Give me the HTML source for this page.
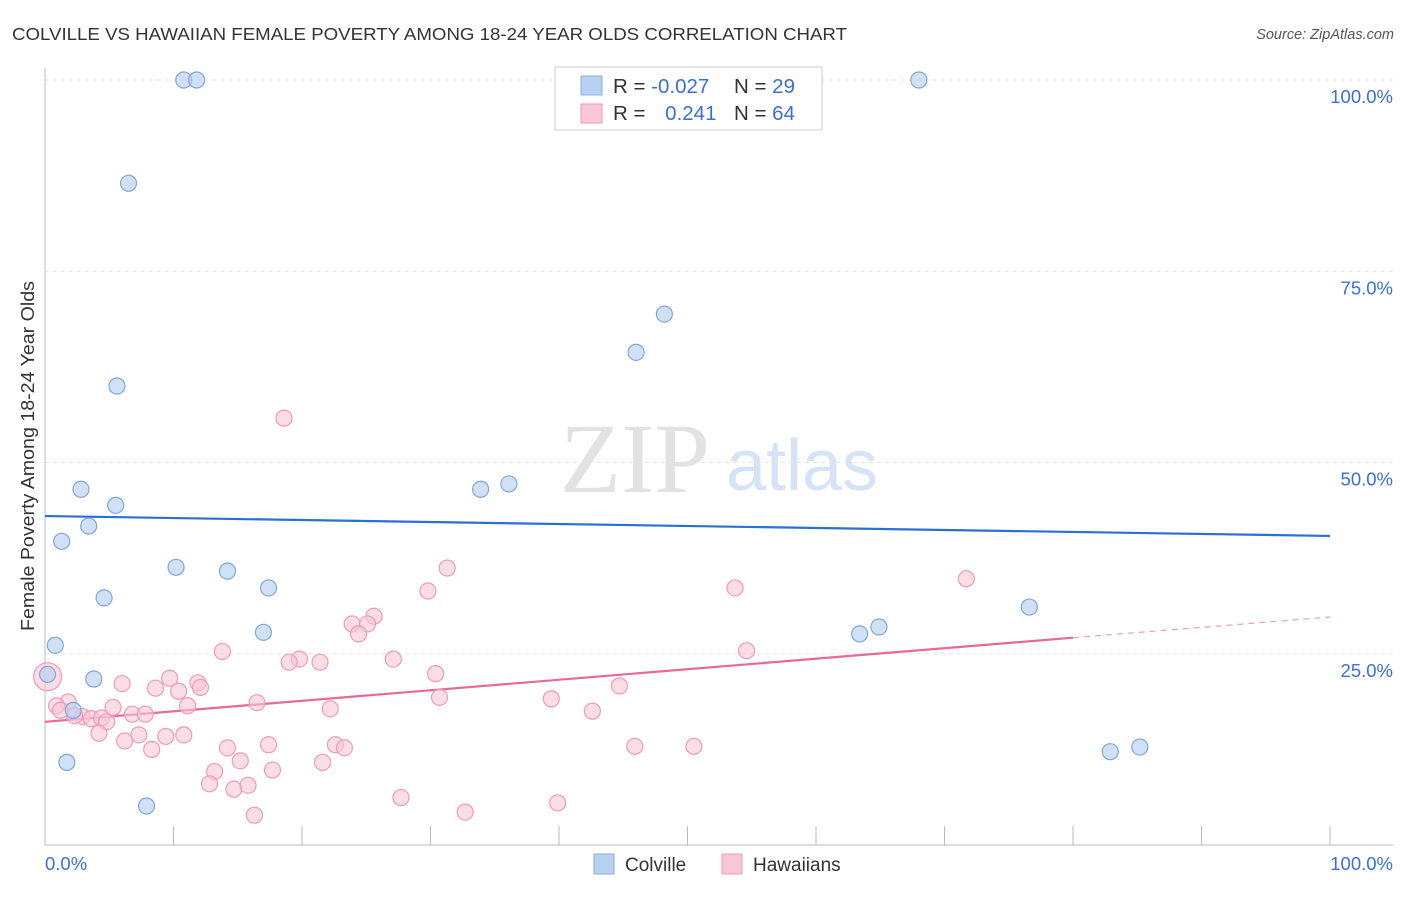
<!DOCTYPE html>
<html><head><meta charset="utf-8"><style>
body{margin:0;background:#fff;font-family:"Liberation Sans",sans-serif;}
</style></head><body>
<svg id="chart" width="1406" height="892" font-family="Liberation Sans, sans-serif">
<text x="12" y="40" font-size="17.5" fill="#333" textLength="835" lengthAdjust="spacingAndGlyphs">COLVILLE VS HAWAIIAN FEMALE POVERTY AMONG 18-24 YEAR OLDS CORRELATION CHART</text>
<text x="1394" y="39" font-size="14.5" fill="#555" text-anchor="end" font-style="italic">Source: ZipAtlas.com</text>
<text x="34" y="456" font-size="18" fill="#333" text-anchor="middle" textLength="350" lengthAdjust="spacingAndGlyphs" transform="rotate(-90 34 456)">Female Poverty Among 18-24 Year Olds</text>
<g><text x="635" y="492" font-size="100" fill="#e2e2e2" style="font-family:'Liberation Serif',serif" text-anchor="middle">ZIP</text><text x="802" y="490" font-size="72" fill="#d6e3f4" text-anchor="middle">atlas</text></g>
<g id="grid"></g><g id="axes"></g><g id="lines"></g><g id="pts"></g>
<g>
<rect x="555" y="67" width="267" height="63" fill="#fff" stroke="#ccc"/>
<rect x="581" y="76" width="21" height="19" fill="#b8d1f0" stroke="#8ab0e0"/>
<rect x="581" y="104" width="21" height="19" fill="#f8c6d5" stroke="#f09ab5"/>
<text x="613" y="93" font-size="20.5" fill="#333">R = <tspan fill="#3b6fd4">-0.027</tspan></text>
<text x="734" y="93" font-size="20.5" fill="#333">N = <tspan fill="#3b6fd4">29</tspan></text>
<text x="613" y="120" font-size="20.5" fill="#333">R = <tspan fill="#3b6fd4" dx="14">0.241</tspan></text>
<text x="734" y="120" font-size="20.5" fill="#333">N = <tspan fill="#3b6fd4">64</tspan></text>
</g>
<g><rect x="594" y="854" width="20" height="20" fill="#b8d1f0" stroke="#8ab0e0"/><text x="625" y="871" font-size="19" fill="#333">Colville</text></g>
<g><rect x="722" y="854" width="20" height="20" fill="#f8c6d5" stroke="#f09ab5"/><text x="753" y="871" font-size="19" fill="#333">Hawaiians</text></g>
<text x="45" y="870" font-size="18.5" fill="#3b6fd4">0.0%</text>
<text x="1393" y="870" font-size="18.5" fill="#3b6fd4" text-anchor="end">100.0%</text>
</svg>
<script>
const yTicks=[25,50,75,100];
const yTickLabels=["25.0%","50.0%","75.0%","100.0%"];
const colvilleX=[10.8,11.8,68.0,6.5,48.2,46.0,5.6,2.8,5.5,33.9,36.1,3.4,1.3,10.2,14.2,17.4,4.6,76.6,17.0,64.9,63.4,0.8,0.2,3.8,2.2,1.7,7.9,82.9,85.2];
const colvilleY=[100,100,100,86.5,69.4,64.4,60.0,46.5,44.4,46.5,47.2,41.7,39.7,36.3,35.8,33.6,32.3,31.1,27.8,28.5,27.6,26.1,22.3,21.7,17.6,10.8,5.1,12.2,12.8];
const hawX=[18.6,31.3,29.8,25.6,23.9,25.1,24.4,71.7,53.7,13.8,54.6,19.8,19.0,21.4,27.1,30.4,9.7,11.9,6.0,8.6,10.4,12.1,44.7,30.7,39.4,16.5,11.1,5.3,22.2,1.8,0.9,0.2,42.6,2.9,3.6,4.4,6.8,7.8,4.8,4.2,7.3,9.4,10.8,6.2,8.3,14.2,17.4,22.6,23.3,45.9,50.5,15.2,13.2,17.7,21.6,12.8,14.7,15.8,27.7,39.9,32.7,16.3,2.3,1.2];
const hawY=[55.8,36.2,33.2,29.9,28.9,28.9,27.6,34.8,33.6,25.3,25.4,24.3,23.9,23.9,24.3,22.4,21.8,21.2,21.1,20.5,20.1,20.6,20.8,19.3,19.1,18.6,18.2,18.0,17.8,18.7,18.2,22.0,17.5,16.8,16.5,16.6,17.1,17.1,16.1,14.6,14.4,14.2,14.4,13.6,12.5,12.7,13.1,13.1,12.7,12.9,12.9,11.0,9.6,9.8,10.8,8.0,7.3,7.8,6.2,5.5,4.3,3.9,16.9,17.6];
const blueTrend=[43.0,40.4];
const pinkTrend=[16.1,27.1,29.8];
const NS="http://www.w3.org/2000/svg";
const X=v=>45+v*12.85, Y=v=>845-v*7.65;
function mk(t,a,p){const e=document.createElementNS(NS,t);for(const k in a)e.setAttribute(k,a[k]);p.appendChild(e);return e;}
const grid=document.getElementById('grid');
yTicks.forEach((t,i)=>{
 const l=mk('line',{x1:45,x2:1393,y1:Y(t),y2:Y(t),stroke:'#e4e4e4','stroke-dasharray':'4,4'},grid);
 
 
 const tx=mk('text',{x:1393,y:Y(t)+23,'font-size':18.5,fill:'#3b6fd4','text-anchor':'end'},grid);
 tx.textContent=yTickLabels[i];
 
 
});
const axes=document.getElementById('axes');
mk('line',{x1:45,x2:1393,y1:845,y2:845,stroke:'#bbb'},axes);
mk('line',{x1:45,x2:45,y1:68,y2:845,stroke:'#bbb'},axes);
for(let i=0;i<=10;i++){mk('line',{x1:X(i*10),x2:X(i*10),y1:826,y2:845,stroke:'#bbb'},axes);}
const lines=document.getElementById('lines');
const bl=mk('line',{x1:X(0),y1:Y(blueTrend[0]),x2:X(100),y2:Y(blueTrend[1]),stroke:'#2a6fd4','stroke-width':2.2},lines);


const pl=mk('line',{x1:X(0),y1:Y(pinkTrend[0]),x2:X(80),y2:Y(pinkTrend[1]),stroke:'#e8689a','stroke-width':2.2},lines);


const pd=mk('line',{x1:X(80),y1:Y(pinkTrend[1]),x2:X(100),y2:Y(pinkTrend[2]),stroke:'#e8a0bb','stroke-width':1.2,'stroke-dasharray':'6,5'},lines);


const pts=document.getElementById('pts');
hawX.forEach((x,i)=>{
 const c=mk('circle',{cx:X(x),cy:Y(hawY[i]),r:(i==31?14:8),fill:'#f8c6d5','fill-opacity':0.6,stroke:'#f09ab5','stroke-width':1.2},pts);
 
 
});
colvilleX.forEach((x,i)=>{
 const c=mk('circle',{cx:X(x),cy:Y(colvilleY[i]),r:8,fill:'#b8d1f0','fill-opacity':0.65,stroke:'#7fa6dc','stroke-width':1.2},pts);
 
 
});
</script>
</body></html>
